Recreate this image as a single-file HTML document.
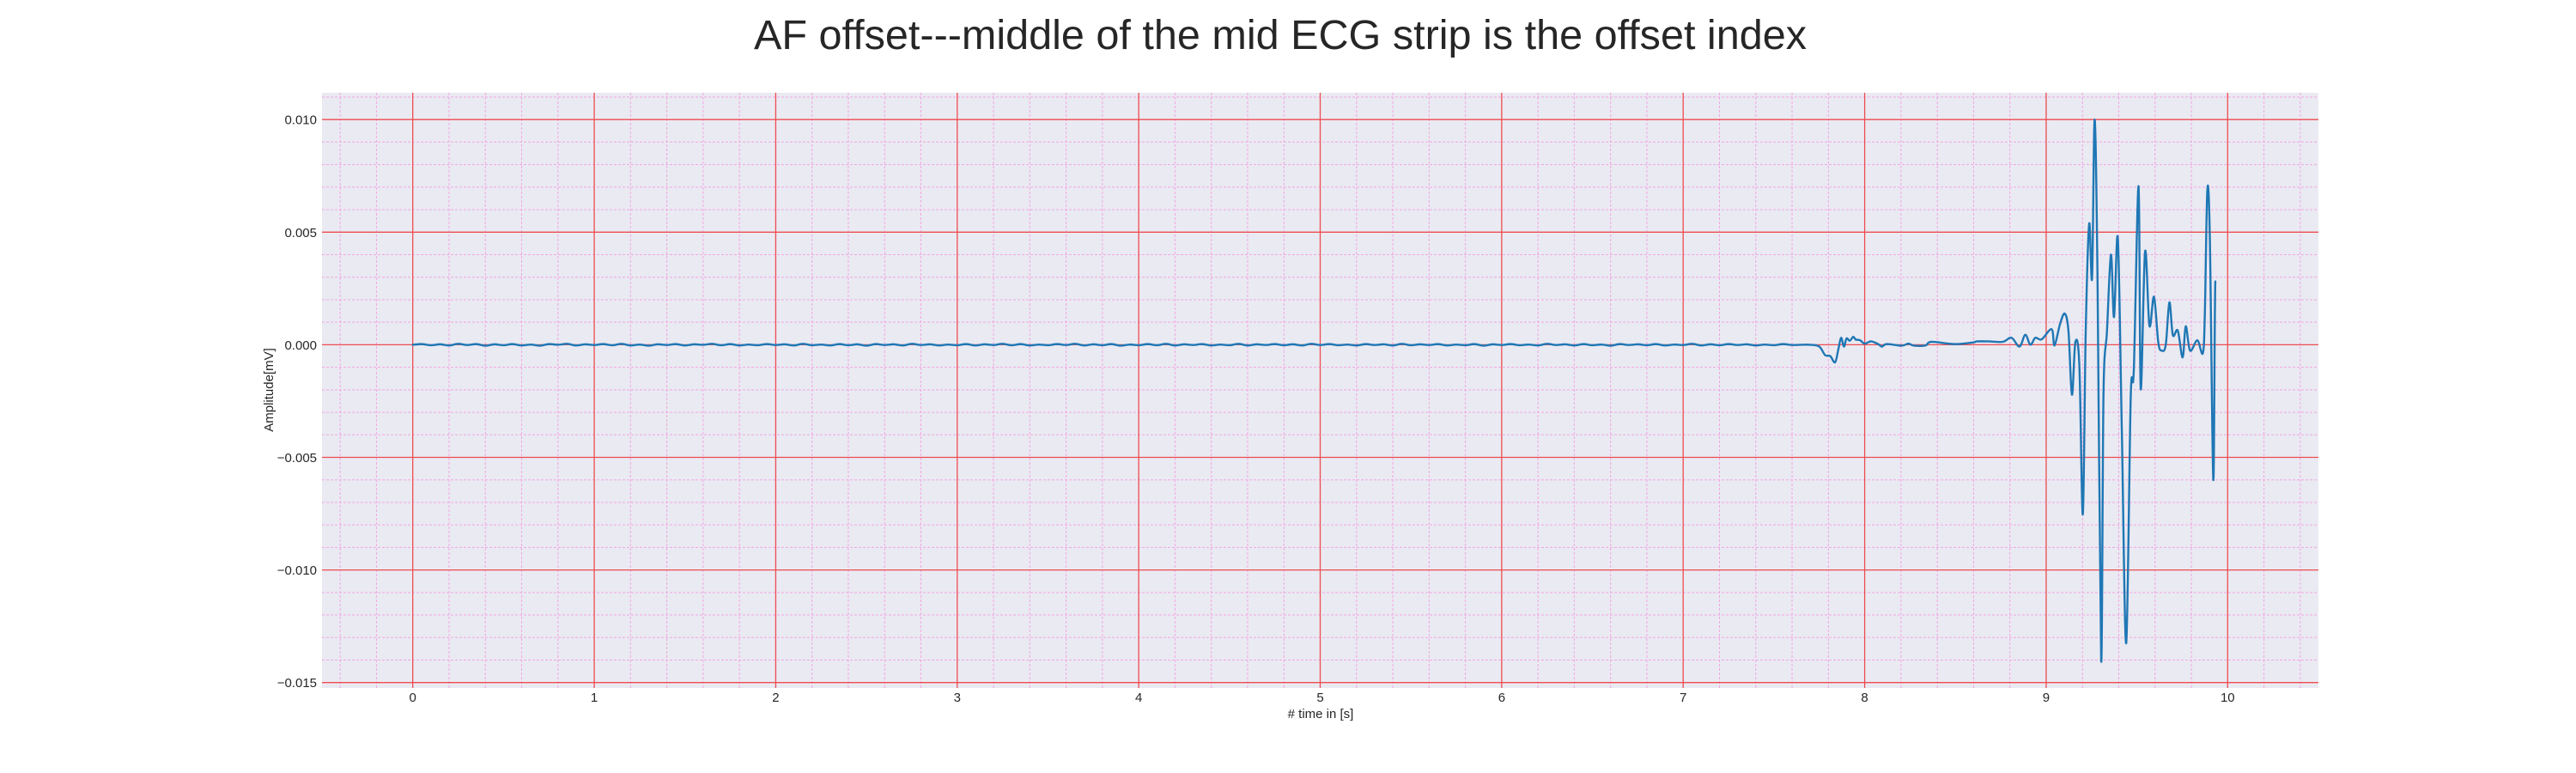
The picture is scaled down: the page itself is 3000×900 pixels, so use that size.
<!DOCTYPE html>
<html><head><meta charset="utf-8">
<style>
html,body{margin:0;padding:0;background:#fff;}
svg{display:block;font-family:"Liberation Sans",sans-serif;}
</style></head>
<body>
<svg id="chart" width="3000" height="900" viewBox="0 0 3000 900" xmlns="http://www.w3.org/2000/svg">
<text x="1491" y="57" font-size="48" text-anchor="middle" fill="#262626" textLength="1226" lengthAdjust="spacingAndGlyphs">AF offset---middle of the mid ECG strip is the offset index</text>
<rect x="375" y="108" width="2325" height="693" fill="#eaeaf2"/>
<g id="grid"></g>
<g id="ticks" font-size="15" fill="#262626"></g>
<text x="1538" y="836" font-size="15" text-anchor="middle" fill="#262626"># time in [s]</text>
<text x="0" y="0" font-size="15" text-anchor="middle" fill="#262626" transform="translate(318,454) rotate(-90)">Amplitude[mV]</text>
<g id="series"></g>
</svg>
<script>
const xTicks = [0,1,2,3,4,5,6,7,8,9,10];
const yTicks = [-0.015,-0.010,-0.005,0.000,0.005,0.010];
const yTickLabels = ["\u22120.015","\u22120.010","\u22120.005","0.000","0.005","0.010"];
const baselineTimes = [0,0.05,0.1,0.15,0.2,0.25,0.3,0.35,0.4,0.45,0.5,0.55,0.6,0.65,0.7,0.75,0.8,0.85,0.9,0.95,1,1.05,1.1,1.15,1.2,1.25,1.3,1.35,1.4,1.45,1.5,1.55,1.6,1.65,1.7,1.75,1.8,1.85,1.9,1.95,2,2.05,2.1,2.15,2.2,2.25,2.3,2.35,2.4,2.45,2.5,2.55,2.6,2.65,2.7,2.75,2.8,2.85,2.9,2.95,3,3.05,3.1,3.15,3.2,3.25,3.3,3.35,3.4,3.45,3.5,3.55,3.6,3.65,3.7,3.75,3.8,3.85,3.9,3.95,4,4.05,4.1,4.15,4.2,4.25,4.3,4.35,4.4,4.45,4.5,4.55,4.6,4.65,4.7,4.75,4.8,4.85,4.9,4.95,5,5.05,5.1,5.15,5.2,5.25,5.3,5.35,5.4,5.45,5.5,5.55,5.6,5.65,5.7,5.75,5.8,5.85,5.9,5.95,6,6.05,6.1,6.15,6.2,6.25,6.3,6.35,6.4,6.45,6.5,6.55,6.6,6.65,6.7,6.75,6.8,6.85,6.9,6.95,7,7.05,7.1,7.15,7.2,7.25,7.3,7.35,7.4,7.45,7.5,7.55,7.6,7.65,7.7,7.75];
const baselineValues = [0,3e-5,-2e-5,2e-5,-3e-5,4e-5,-1e-5,3e-5,-4e-5,2e-5,-2e-5,3e-5,-3e-5,1e-5,-4e-5,3e-5,0,4e-5,-3e-5,2e-5,-1e-5,3e-5,-2e-5,4e-5,-3e-5,1e-5,-4e-5,2e-5,-1e-5,3e-5,-3e-5,2e-5,0,4e-5,-2e-5,3e-5,-3e-5,1e-5,-2e-5,3e-5,-1e-5,2e-5,-3e-5,4e-5,-2e-5,1e-5,-3e-5,3e-5,-2e-5,2e-5,-4e-5,3e-5,-1e-5,2e-5,-3e-5,4e-5,-1e-5,2e-5,-3e-5,1e-5,-2e-5,3e-5,-3e-5,2e-5,-1e-5,4e-5,-2e-5,3e-5,-3e-5,1e-5,-2e-5,3e-5,-1e-5,4e-5,-3e-5,2e-5,-2e-5,3e-5,-4e-5,1e-5,-2e-5,3e-5,-2e-5,4e-5,-3e-5,2e-5,-1e-5,3e-5,-3e-5,1e-5,-2e-5,4e-5,-3e-5,2e-5,-1e-5,3e-5,-2e-5,2e-5,-3e-5,4e-5,-1e-5,3e-5,-2e-5,1e-5,-3e-5,3e-5,-1e-5,2e-5,-3e-5,4e-5,-2e-5,2e-5,-1e-5,3e-5,-3e-5,1e-5,-2e-5,3e-5,-4e-5,2e-5,-1e-5,3e-5,-2e-5,1e-5,-3e-5,4e-5,-1e-5,2e-5,-3e-5,3e-5,-2e-5,1e-5,-4e-5,3e-5,-1e-5,2e-5,-2e-5,3e-5,-3e-5,1e-5,-1e-5,4e-5,-3e-5,2e-5,-2e-5,3e-5,-1e-5,2e-5,-3e-5,1e-5,-2e-5,3e-5,-1e-5,0];
const eventTimes = [7.782,7.81,7.837,7.855,7.87,7.886,7.9,7.918,7.937,7.951,7.975,8.0,8.035,8.074,8.095,8.122,8.205,8.24,8.272,8.335,8.367,8.493,8.596,8.619,8.682,8.761,8.809,8.853,8.885,8.913,8.94,8.975,9.03,9.046,9.077,9.103,9.123,9.142,9.161,9.183,9.202,9.218,9.237,9.253,9.267,9.283,9.303,9.316,9.335,9.357,9.374,9.395,9.417,9.441,9.466,9.483,9.509,9.521,9.545,9.569,9.594,9.618,9.637,9.659,9.679,9.698,9.725,9.752,9.769,9.793,9.833,9.863,9.874,9.888,9.902,9.921,9.932,9.951,9.976,10.0];
const eventValues = [0,-0.00008,-0.00046,-0.0005,-0.00078,-0.0002,0.00031,-0.00008,0.00028,0.00018,0.00035,0.00023,0.0002,0.00005,0.00015,0.00003,-0.00008,0.00003,-0.00004,0.00005,-0.00004,-0.00003,0.00013,0.00003,0.0001,0.00015,0.00015,0.00013,0.00031,-0.00008,0.00044,0,0.00031,0.00024,0.00069,-0.00003,0.00094,0.00138,0.0006,-0.00222,0.00012,-0.00094,-0.00753,0.0006,0.00537,0.00298,0.0100,0.00298,-0.01403,-0.00213,0.0006,0.0040,0.00123,0.00472,-0.00384,-0.01325,-0.0023,-0.00111,0.00704,-0.00196,0.00414,0.00085,0.00213,0.00009,-0.00026,0,0.00188,0.00043,0.00063,-0.00056,0.00082,-0.00026,0.0002,-0.00038,0.00128,0.00687,0.00469,-0.0060,0.00281,0.00384];

const NS="http://www.w3.org/2000/svg";
const PX0=375, PX1=2700, PY0=108, PY1=801;
const XMIN=-0.5, XMAX=10.5, YMIN=-0.01524, YMAX=0.01119;
function xs(t){return PX0+(t-XMIN)/(XMAX-XMIN)*(PX1-PX0);}
function ys(v){return PY1-(v-YMIN)/(YMAX-YMIN)*(PY1-PY0);}
function mk(tag,attrs,parent){const e=document.createElementNS(NS,tag);for(const k in attrs)e.setAttribute(k,attrs[k]);parent.appendChild(e);return e;}
const grid=document.getElementById('grid');
for(let i=-2;i<=52;i++){const t=i*0.2;if(i%5===0)continue;
  const l=mk('line',{x1:xs(t),x2:xs(t),y1:PY0,y2:PY1,stroke:'#f2a6e2','stroke-width':1,'stroke-dasharray':'3,2'},grid);
  
  }
for(let i=-15;i<=11;i++){if(i%5===0)continue;const v=i*0.001;
  const l=mk('line',{x1:PX0,x2:PX1,y1:ys(v),y2:ys(v),stroke:'#f2a6e2','stroke-width':1,'stroke-dasharray':'3,2'},grid);
  
  }
const ticks=document.getElementById('ticks');
xTicks.forEach(t=>{
  const l=mk('line',{x1:xs(t),x2:xs(t),y1:PY0,y2:PY1,stroke:'#ee4c50','stroke-width':1.3},grid);
  
  
  const tx=mk('text',{x:xs(t),y:817,'text-anchor':'middle'},ticks);tx.textContent=String(t);
  
  
});
yTicks.forEach((v,i)=>{
  const l=mk('line',{x1:PX0,x2:PX1,y1:ys(v),y2:ys(v),stroke:'#ee4c50','stroke-width':1.3},grid);
  
  
  const tx=mk('text',{x:369,y:ys(v)+5.5,'text-anchor':'end'},ticks);tx.textContent=yTickLabels[i];
  
  
});
const T=baselineTimes.concat(eventTimes), V=baselineValues.concat(eventValues);
const P=T.map((t,i)=>[xs(t),ys(V[i])]);
let d='M'+P[0][0].toFixed(2)+','+P[0][1].toFixed(2);
for(let i=0;i<P.length-1;i++){
  const p0=P[Math.max(0,i-1)],p1=P[i],p2=P[i+1],p3=P[Math.min(P.length-1,i+2)];
  const k=1/6;
  const c1x=p1[0]+(p2[0]-p0[0])*k, c1y=p1[1]+(p2[1]-p0[1])*k;
  const c2x=p2[0]-(p3[0]-p1[0])*k, c2y=p2[1]-(p3[1]-p1[1])*k;
  d+='C'+c1x.toFixed(2)+','+c1y.toFixed(2)+' '+c2x.toFixed(2)+','+c2y.toFixed(2)+' '+p2[0].toFixed(2)+','+p2[1].toFixed(2);
}
const p=mk('path',{d:d,fill:'none',stroke:'#1f77b4','stroke-width':2.4,'stroke-linejoin':'round','stroke-linecap':'round'},document.getElementById('series'));


</script>
</body></html>
